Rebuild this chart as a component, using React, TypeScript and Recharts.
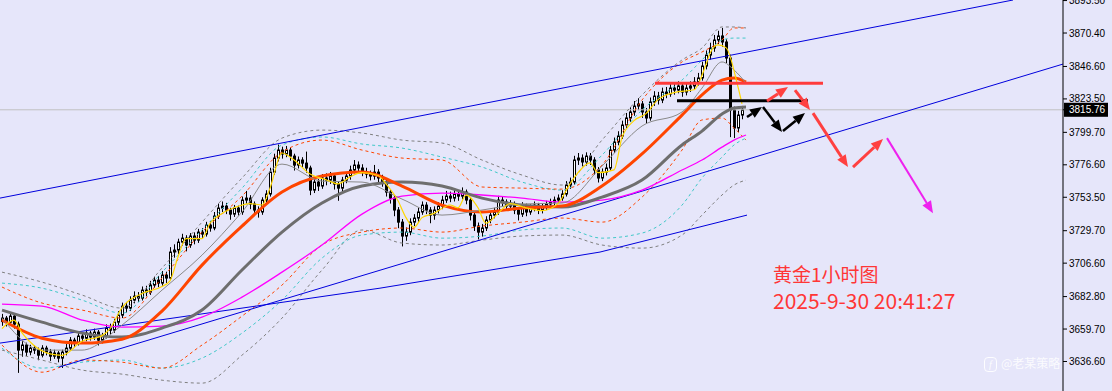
import { ComposedChart, Bar, Line, XAxis, YAxis, ReferenceLine } from 'recharts';

// hourly gold candles, oldest first (open of each bar = previous close)
const firstOpen = 3665.0;
const closes = [
  3667.5, 3664.6, 3668.9, 3663.2, 3644.7, 3648.3, 3643.3, 3646.1, 3644.7, 3641.1,
  3646.1, 3643.3, 3640.4, 3642.6, 3639.0, 3643.3, 3646.1, 3651.8, 3649.7, 3654.7,
  3653.2, 3656.8, 3654.0, 3657.5, 3651.8, 3654.7, 3660.4, 3658.9, 3664.6, 3669.6,
  3676.0, 3674.6, 3680.3, 3683.1, 3681.7, 3687.4, 3686.0, 3691.0, 3694.5, 3692.4,
  3698.1, 3696.0, 3714.5, 3715.9, 3721.6, 3724.4, 3719.5, 3725.9, 3723.0, 3728.7,
  3727.3, 3733.7, 3731.6, 3740.1, 3745.8, 3747.2, 3744.4, 3741.5, 3745.8, 3743.0,
  3751.5, 3752.9, 3748.7, 3744.4, 3743.0, 3751.5, 3755.8, 3771.4, 3781.4, 3787.1,
  3784.3, 3787.1, 3782.8, 3776.4, 3780.0, 3777.8, 3774.3, 3758.6, 3764.3, 3761.5,
  3767.2, 3765.7, 3768.6, 3762.9, 3760.0, 3765.7, 3768.6, 3772.9, 3776.4, 3774.3,
  3771.4, 3770.0, 3768.6, 3771.4, 3767.2, 3764.3, 3757.2, 3752.9, 3744.4, 3735.8,
  3725.9, 3728.7, 3735.8, 3738.7, 3743.0, 3747.9, 3744.4, 3740.8, 3744.4, 3747.2,
  3751.5, 3754.3, 3752.9, 3755.8, 3754.3, 3757.2, 3751.5, 3740.8, 3733.0, 3728.7,
  3731.6, 3737.3, 3740.8, 3743.0, 3751.5, 3750.1, 3747.2, 3748.7, 3744.4, 3741.5,
  3747.2, 3743.0, 3745.8, 3747.9, 3744.4, 3746.5, 3748.7, 3750.1, 3751.5, 3752.9,
  3755.8, 3762.2, 3764.3, 3780.0, 3781.4, 3778.6, 3782.8, 3780.0, 3772.9, 3767.2,
  3771.4, 3774.3, 3787.1, 3792.8, 3797.1, 3804.9, 3809.9, 3814.2, 3818.4, 3819.9,
  3814.2, 3809.9, 3821.3, 3825.5, 3822.7, 3828.4, 3827.0, 3831.2, 3829.8, 3832.7,
  3828.4, 3831.2, 3832.7, 3835.5, 3838.4, 3846.9, 3854.7, 3859.7, 3865.4, 3868.3,
  3864.0, 3852.6, 3815.6, 3802.8, 3812.0, 3815.76,
];
const highs = [
  3670.5, 3669.0, 3671.0, 3670.2, 3665.0, 3651.0, 3650.0, 3648.5, 3648.0, 3646.5,
  3648.2, 3647.8, 3645.5, 3645.0, 3644.0, 3645.0, 3649.0, 3654.0, 3653.5, 3657.0,
  3657.5, 3659.5, 3658.5, 3660.0, 3659.0, 3657.0, 3663.0, 3663.5, 3667.0, 3672.5,
  3678.5, 3679.0, 3683.0, 3686.5, 3686.0, 3690.0, 3690.5, 3694.0, 3697.0, 3697.5,
  3701.0, 3700.5, 3718.0, 3720.0, 3724.0, 3727.5, 3726.5, 3728.0, 3728.5, 3731.0,
  3731.5, 3736.0, 3736.5, 3743.0, 3749.0, 3750.5, 3749.5, 3746.0, 3748.0, 3747.5,
  3754.0, 3758.0, 3755.0, 3750.5, 3747.0, 3753.5, 3758.5, 3774.5, 3784.5, 3791.0,
  3789.5, 3790.0, 3789.0, 3784.5, 3782.5, 3782.0, 3786.0, 3776.0, 3767.0, 3766.5,
  3770.0, 3770.5, 3771.5, 3770.0, 3765.0, 3768.0, 3771.5, 3776.0, 3780.0, 3779.0,
  3777.0, 3774.5, 3772.5, 3776.5, 3773.5, 3769.5, 3766.0, 3759.0, 3755.0, 3746.5,
  3738.0, 3732.0, 3738.5, 3741.5, 3746.0, 3750.5, 3750.0, 3746.5, 3747.0, 3750.0,
  3754.5, 3758.0, 3757.5, 3759.0, 3758.5, 3760.5, 3759.0, 3753.5, 3742.5, 3735.5,
  3734.5, 3740.0, 3743.5, 3746.0, 3754.5, 3754.0, 3752.0, 3751.5, 3750.5, 3746.5,
  3750.0, 3749.0, 3748.5, 3750.5, 3749.5, 3749.0, 3751.0, 3752.5, 3754.0, 3755.5,
  3758.5, 3765.0, 3767.5, 3783.0, 3785.0, 3784.0, 3785.5, 3785.0, 3782.0, 3775.0,
  3774.0, 3777.5, 3790.0, 3796.0, 3800.5, 3808.0, 3813.5, 3817.5, 3822.0, 3824.0,
  3822.0, 3817.0, 3824.5, 3829.0, 3828.5, 3831.5, 3832.0, 3834.5, 3834.0, 3836.0,
  3835.0, 3834.5, 3836.0, 3839.0, 3842.0, 3850.0, 3858.0, 3863.5, 3869.0, 3872.0,
  3874.0, 3866.0, 3855.0, 3818.0, 3815.0, 3818.5,
];
const lows = [
  3662.0, 3661.5, 3662.8, 3660.0, 3628.5, 3640.0, 3640.5, 3641.0, 3642.0, 3637.5,
  3639.5, 3641.0, 3637.0, 3638.5, 3636.0, 3632.0, 3641.0, 3644.5, 3647.0, 3648.0,
  3650.5, 3651.0, 3651.5, 3652.0, 3648.0, 3649.5, 3653.0, 3656.0, 3657.0, 3662.5,
  3667.5, 3671.5, 3672.5, 3678.0, 3679.0, 3680.0, 3683.0, 3684.0, 3689.0, 3689.5,
  3690.5, 3692.5, 3694.5, 3710.5, 3713.0, 3719.0, 3715.0, 3717.5, 3720.0, 3721.0,
  3724.5, 3725.5, 3729.0, 3730.0, 3738.0, 3743.0, 3741.5, 3737.5, 3739.5, 3740.5,
  3741.0, 3749.0, 3745.0, 3741.0, 3739.0, 3741.0, 3749.0, 3754.0, 3769.5, 3779.0,
  3781.0, 3782.0, 3779.5, 3772.5, 3774.0, 3775.0, 3771.0, 3755.0, 3756.5, 3758.0,
  3759.5, 3762.0, 3763.0, 3759.0, 3751.0, 3757.5, 3763.5, 3766.0, 3770.5, 3771.5,
  3768.5, 3767.0, 3765.5, 3766.0, 3764.0, 3761.0, 3754.0, 3749.0, 3740.0, 3731.5,
  3718.5, 3722.5, 3726.5, 3733.0, 3736.0, 3741.0, 3741.5, 3735.0, 3737.5, 3742.0,
  3745.0, 3749.5, 3750.0, 3750.5, 3751.0, 3752.0, 3748.5, 3737.0, 3729.5, 3723.5,
  3725.5, 3729.5, 3735.0, 3738.5, 3741.0, 3747.0, 3744.0, 3745.0, 3741.5, 3737.0,
  3739.5, 3740.0, 3741.0, 3743.5, 3741.5, 3742.0, 3744.5, 3746.5, 3748.0, 3749.5,
  3751.0, 3754.0, 3759.5, 3762.5, 3776.5, 3775.5, 3776.0, 3776.5, 3769.5, 3764.0,
  3765.0, 3769.0, 3772.5, 3785.0, 3790.5, 3795.0, 3802.5, 3807.0, 3811.5, 3815.5,
  3810.0, 3806.0, 3808.0, 3818.5, 3819.5, 3820.5, 3824.0, 3825.0, 3826.5, 3827.5,
  3825.0, 3826.0, 3828.5, 3830.5, 3833.0, 3836.5, 3844.5, 3851.5, 3857.0, 3862.5,
  3860.5, 3849.0, 3796.3, 3795.6, 3800.0, 3809.0,
];

// fast MA (yellow), read at these bars
const fastIdx = [
  0, 3, 5, 8, 12, 15, 20, 25, 27, 30, 35, 40, 42, 44, 46, 50, 52, 55, 58, 62,
  65, 67, 70, 73, 77, 81, 84, 87, 90, 94, 96, 99, 101, 103, 105, 108, 112, 114, 116, 119,
  121, 124, 127, 131, 135, 139, 142, 144, 147, 149, 153, 155, 158, 161, 164, 168, 173, 176, 177, 179,
  181, 184, 185,
];
const fastMa = [
  3660, 3666, 3657, 3648, 3642, 3641, 3651, 3655, 3660, 3675, 3685, 3690, 3694, 3711, 3724, 3724, 3735, 3742, 3746, 3749,
  3748, 3760, 3785, 3780, 3770, 3766, 3763, 3768, 3771, 3769, 3763, 3751, 3739, 3732, 3739, 3742, 3748, 3746, 3755, 3746,
  3735, 3742, 3749, 3746, 3744, 3749, 3763, 3771, 3778, 3771, 3773, 3796, 3808, 3813, 3823, 3828, 3830, 3848, 3856, 3862,
  3860, 3832, 3820,
];

// slower lines and bands, read at these bars
const maIdx = [0, 10, 20, 30, 40, 50, 60, 70, 80, 90, 100, 110, 120, 130, 140, 150, 160, 170, 175, 180, 183, 186];
const thinMa = [3667.5, 3644.7, 3644.7, 3662.5, 3687.4, 3712.3, 3743.0, 3777.1, 3765.0, 3764.3, 3752.2, 3740.8, 3744.4, 3748.7, 3749.4, 3775.7, 3804.2, 3814.2, 3831.2, 3849.8, 3844.1, 3834.8];
const orangeMa = [3666.1, 3653.2, 3649.7, 3652.5, 3672.5, 3705.2, 3733.0, 3757.2, 3768.6, 3771.4, 3761.5, 3747.9, 3743.0, 3745.8, 3747.2, 3761.5, 3784.3, 3812.0, 3826.3, 3836.9, 3838.4, 3835.5];
const grayMa = [3673.2, 3664.6, 3656.8, 3654.0, 3660.4, 3673.2, 3701.7, 3728.7, 3749.4, 3761.5, 3764.3, 3761.5, 3752.9, 3747.9, 3746.5, 3753.6, 3765.7, 3790.7, 3800.6, 3812.7, 3817.0, 3817.7];
const magentaMa = [3677.5, 3676.0, 3666.1, 3661.1, 3661.8, 3668.2, 3682.4, 3700.2, 3719.5, 3741.5, 3754.3, 3756.5, 3755.1, 3752.9, 3750.1, 3751.5, 3758.6, 3772.9, 3780.0, 3789.2, 3794.2, 3797.8];
const grayUp = [3700.2, 3693.1, 3683.9, 3674.6, 3703.1, 3735.8, 3767.2, 3795.6, 3801.3, 3799.2, 3794.2, 3792.1, 3780.0, 3769.3, 3762.2, 3794.2, 3826.3, 3851.2, 3859.7, 3874.7, 3874.7, 3874.0];
const cyanUp = [3692.4, 3688.8, 3680.3, 3671.0, 3700.2, 3730.2, 3760.0, 3790.7, 3796.4, 3791.4, 3788.5, 3782.1, 3775.0, 3764.3, 3758.6, 3783.5, 3815.6, 3836.9, 3851.2, 3865.4, 3866.8, 3866.8];
const orangeUp = [3689.6, 3678.2, 3673.2, 3667.5, 3696.0, 3728.7, 3754.3, 3785.7, 3794.2, 3787.1, 3781.4, 3780.0, 3760.8, 3760.0, 3759.3, 3776.4, 3822.7, 3849.8, 3856.9, 3865.4, 3874.0, 3874.0];
const grayDn = [3644.7, 3637.6, 3630.5, 3627.6, 3623.3, 3621.2, 3641.1, 3667.5, 3701.7, 3730.2, 3720.9, 3719.5, 3723.0, 3725.9, 3726.6, 3719.5, 3717.3, 3726.6, 3740.8, 3755.1, 3762.2, 3765.7];
const cyanDn = [3646.1, 3631.9, 3636.1, 3637.6, 3631.9, 3639.0, 3656.8, 3680.3, 3710.2, 3726.6, 3728.7, 3724.4, 3725.9, 3730.2, 3731.6, 3724.4, 3728.0, 3747.9, 3767.2, 3782.1, 3790.7, 3795.6];
const orangeDn = [3648.3, 3629.0, 3637.6, 3636.1, 3631.9, 3648.3, 3668.9, 3691.0, 3719.5, 3728.7, 3731.6, 3728.7, 3733.0, 3735.8, 3738.7, 3735.8, 3753.6, 3787.1, 3808.5, 3809.9, 3802.8, 3794.2];

const yTicks = [3636.6, 3659.7, 3682.8, 3706.6, 3729.7, 3753.5, 3776.6, 3799.7, 3823.5, 3846.6, 3870.4, 3893.5];
const lastPrice = 3815.76;

// drawn objects: [bar, price] pairs
const trendLines = [
  [[-0.5, 3752.9], [252.75, 3893.9]],
  [[14.25, 3632.6], [265.25, 3848.3]],
  [[-0.5, 3649.7], [94.5, 3688.8]],
  [[94.5, 3688.8], [149.5, 3714.5]],
  [[149.5, 3714.5], [186.25, 3740.8]],
];
const levels = [
  { price: 3834.6, from: 163.25, to: 205.25, color: '#ff3b3b' },
  { price: 3822.2, from: 168.75, to: 201.5, color: '#000000' },
];
const arrows = [
  { from: [186.25, 3810.6], to: [190, 3817.7], color: '#000000', w: 2.5 },
  { from: [190.25, 3817.7], to: [195, 3799.9], color: '#000000', w: 2.5 },
  { from: [195.25, 3800.6], to: [200.75, 3813.4], color: '#000000', w: 2.5 },
  { from: [191.25, 3822.0], to: [196.5, 3832.0], color: '#ff4040', w: 3 },
  { from: [198.25, 3829.8], to: [202, 3815.6], color: '#ff4040', w: 3 },
  { from: [202.75, 3813.4], to: [211.5, 3775.0], color: '#ff4040', w: 3 },
  { from: [212.75, 3775.0], to: [220.25, 3794.9], color: '#ff4040', w: 3 },
  { from: [221.25, 3795.6], to: [232.75, 3742.2], color: '#ee22ee', w: 2 },
];

const data = Array.from({ length: 187 }, (_, i) => {
  const row: any = { i };
  if (i < closes.length) {
    row.open = i === 0 ? firstOpen : closes[i - 1];
    row.close = closes[i];
    row.high = highs[i];
    row.low = lows[i];
  }
  return row;
});
fastIdx.forEach((b, k) => (data[b].fast = fastMa[k]));
maIdx.forEach((b, k) => {
  Object.assign(data[b], {
    thin: thinMa[k], orange: orangeMa[k], gray: grayMa[k], magenta: magentaMa[k],
    gu: grayUp[k], cu: cyanUp[k], ou: orangeUp[k], gd: grayDn[k], cd: cyanDn[k], od: orangeDn[k],
  });
});

const Candle = (props: any) => {
  const { x, y, width, height, payload } = props;
  if (!payload || payload.open == null || !isFinite(y)) return null;
  const { open, close, high, low } = payload;
  const top = Math.min(y, y + height);
  const h = Math.abs(height);
  const k = h / (high - low || 1);
  const cx = Math.round(x + width / 2) + 0.5;
  const yO = top + (high - open) * k;
  const yC = top + (high - close) * k;
  const bt = Math.min(yO, yC);
  const bh = Math.max(1, Math.abs(yO - yC));
  return (
    <g>
      <line x1={cx} x2={cx} y1={top} y2={top + h} stroke="#000" strokeWidth={1} />
      <rect x={cx - 1} y={bt} width={2} height={bh} fill={close >= open ? '#fff' : '#000'} stroke="#000" strokeWidth={1} />
    </g>
  );
};

const arrowShape = (color: string, w: number) => (p: any) => {
  const { x1, y1, x2, y2 } = p;
  const dx = x2 - x1;
  const dy = y2 - y1;
  const len = Math.hypot(dx, dy) || 1;
  const ux = dx / len;
  const uy = dy / len;
  const head = 12;
  const half = 5;
  const bx = x2 - ux * head;
  const by = y2 - uy * head;
  return (
    <g>
      <line x1={x1} y1={y1} x2={bx} y2={by} stroke={color} strokeWidth={w} />
      <polygon points={`${x2},${y2} ${bx - uy * half},${by + ux * half} ${bx + uy * half},${by - ux * half}`} fill={color} />
    </g>
  );
};

const PriceTick = (props: any) => {
  const { x, y, payload } = props;
  const v = payload.value;
  if (v === lastPrice) {
    return (
      <g>
        <rect x={x - 5} y={y - 7} width={44} height={14} fill="#000" />
        <text x={x} y={y} dy="0.35em" fill="#fff" fontSize={10} fontFamily="Liberation Sans, Arial">
          {v.toFixed(2)}
        </text>
      </g>
    );
  }
  return (
    <text x={x} y={y} dy="0.35em" fill="#000" fontSize={10} fontFamily="Liberation Sans, Arial">
      {v.toFixed(2)}
    </text>
  );
};

const band = (key: string, color: string) => (
  <Line key={key} dataKey={key} type="monotone" stroke={color} strokeWidth={1} strokeDasharray="3 3"
    dot={false} activeDot={false} connectNulls isAnimationActive={false} />
);

export default function App() {
  return (
    <div style={{ position: 'fixed', left: 0, top: 0, width: 1112, height: 391, background: '#e6e6fa', overflow: 'hidden' }}>
      <ComposedChart width={1112} height={391} data={data} margin={{ top: 0, right: 0, bottom: 0, left: 0 }}>
        <XAxis dataKey="i" type="number" domain={[-0.5, 265.25]} allowDataOverflow hide />
        <YAxis
          orientation="right"
          width={49}
          type="number"
          domain={[3615.6, 3893.9]}
          allowDataOverflow
          ticks={[...yTicks, lastPrice]}
          interval={0}
          tickSize={4}
          tickMargin={2}
          axisLine={{ stroke: '#000' }}
          tickLine={{ stroke: '#000' }}
          tick={<PriceTick />}
        />
        <ReferenceLine y={lastPrice} stroke="#c0c0c0" strokeWidth={1} />
        {band('gu', '#808080')}
        {band('gd', '#808080')}
        {band('cu', '#40c8c8')}
        {band('cd', '#40c8c8')}
        {band('ou', '#ff4500')}
        {band('od', '#ff4500')}
        {trendLines.map((s, k) => (
          <ReferenceLine key={'t' + k} segment={[{ x: s[0][0], y: s[0][1] }, { x: s[1][0], y: s[1][1] }]}
            stroke="#0000dd" strokeWidth={1} ifOverflow="visible" />
        ))}
        <Bar dataKey={(d: any) => (d.low != null ? [d.low, d.high] : null)} barSize={3} shape={<Candle />} isAnimationActive={false} />
        <Line dataKey="magenta" type="monotone" stroke="#ff00ff" strokeWidth={1.3} dot={false} activeDot={false} connectNulls isAnimationActive={false} />
        <Line dataKey="gray" type="monotone" stroke="#6e6e6e" strokeWidth={3} dot={false} activeDot={false} connectNulls isAnimationActive={false} />
        <Line dataKey="orange" type="monotone" stroke="#ff4500" strokeWidth={3} dot={false} activeDot={false} connectNulls isAnimationActive={false} />
        <Line dataKey="thin" type="monotone" stroke="#8a8a8a" strokeWidth={1} dot={false} activeDot={false} connectNulls isAnimationActive={false} />
        <Line dataKey="fast" type="monotone" stroke="#ffd700" strokeWidth={1.2} dot={false} activeDot={false} connectNulls isAnimationActive={false} />
        {levels.map((l, k) => (
          <ReferenceLine key={'l' + k} segment={[{ x: l.from, y: l.price }, { x: l.to, y: l.price }]}
            stroke={l.color} strokeWidth={3} ifOverflow="visible" />
        ))}
        {arrows.map((a, k) => (
          <ReferenceLine key={'a' + k} segment={[{ x: a.from[0], y: a.from[1] }, { x: a.to[0], y: a.to[1] }]}
            stroke={a.color} strokeWidth={a.w} ifOverflow="visible" shape={arrowShape(a.color, a.w)} />
        ))}
      </ComposedChart>
      <div style={{ position: 'absolute', left: 773, top: 264, fontSize: 19, lineHeight: '19px', color: '#ff3636', fontFamily: '"Noto Sans CJK SC", sans-serif', whiteSpace: 'nowrap' }}>
        黄金1小时图
      </div>
      <div style={{ position: 'absolute', left: 773, top: 290, fontSize: 21, lineHeight: '21px', color: '#ff3636', fontFamily: '"Noto Sans CJK SC", sans-serif', whiteSpace: 'nowrap' }}>
        2025-9-30 20:41:27
      </div>
      <div style={{ position: 'absolute', left: 984, top: 357, width: 11, height: 13, border: '1.5px solid rgba(255,255,255,0.9)', borderRadius: 4, color: 'rgba(255,255,255,0.9)', fontSize: 10, lineHeight: '13px', textAlign: 'center', fontFamily: '"Liberation Serif", serif', fontStyle: 'italic' }}>
        f
      </div>
      <div style={{ position: 'absolute', left: 1001, top: 356, fontSize: 12, lineHeight: '14px', color: 'rgba(255,255,255,0.85)', fontFamily: '"Noto Sans CJK SC", sans-serif', whiteSpace: 'nowrap' }}>
        @老某策略
      </div>
    </div>
  );
}
